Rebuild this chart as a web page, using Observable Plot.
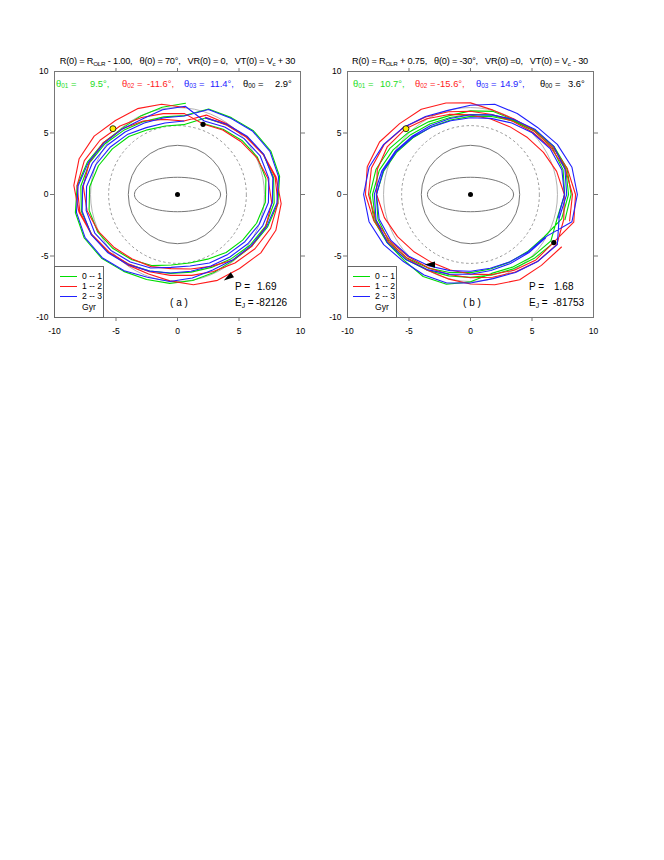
<!DOCTYPE html>
<html><head><meta charset="utf-8">
<script src="https://cdn.jsdelivr.net/npm/d3@7"></script>
<script src="https://cdn.jsdelivr.net/npm/@observablehq/plot@0.6"></script>
<style>
body{margin:0;background:#fff;font-family:"Liberation Sans",Arial,sans-serif;}
#wrap{position:relative;width:664px;height:860px;background:#fff;}
.abs{position:absolute;white-space:pre;line-height:1;font-family:"Liberation Sans",Arial,sans-serif;}
.sb{font-size:68%;position:relative;top:0.3em;}
svg{position:absolute;top:40px;overflow:visible;}
</style></head><body><div id="wrap"></div>
<script>
// ---------- data ----------
const tickLabels = [-10, -5, 0, 5, 10];
const tickMarks = [-5, 0, 5];
// sampling angles (deg) along each revolution, clockwise from the start angle
const anglesA = [70,55,40,25,10,-5,-20,-35,-50,-65,-80,-95,-110,-125,-140,-155,-170,-185,-200,-215,-230,-245,-260,-275];
const anglesB = [-30,-45,-60,-75,-90,-105,-120,-135,-150,-165,-180,-195,-210,-225,-240,-255,-270,-285,-300,-315,-330,-345,-360,-375];
// orbit radii (kpc) at those angles, three revolutions per Gyr
const greenA = [6.15,6.47,6.84,7.17,7.30,7.17,6.84,6.47,6.15,5.80,5.65,5.75,6.15,6.47,6.84,7.17,7.30,7.17,6.84,6.47,6.15,5.80,5.65,5.70,
  6.62,6.93,7.32,7.71,7.93,7.89,7.60,7.19,6.81,6.54,6.41,6.44,6.62,6.93,7.32,7.71,7.93,7.89,7.60,7.19,6.81,6.54,6.41,6.44,
  7.40,7.63,8.06,8.37,8.43,8.19,7.78,7.35,7.02,7.00,7.10,7.25,7.35,7.63,8.06,8.37,8.43,8.19,7.78,7.35,7.02,7.05,7.20,7.45];
const redA = [6.68,6.91,7.27,7.69,8.06,8.20,8.06,7.69,7.27,6.91,6.68,6.60,6.68,6.91,7.27,7.69,8.06,8.20,8.06,7.69,7.27,6.91,6.68,6.60,
  6.10,6.41,6.71,7.10,7.47,7.69,7.64,7.36,6.97,6.45,6.15,6.05,6.24,6.41,6.71,7.10,7.47,7.69,7.64,7.36,6.97,6.60,6.20,6.00,
  6.87,7.01,7.30,7.71,8.14,8.46,8.51,8.27,7.85,7.70,7.45,7.05,6.87,7.01,7.30,7.71,8.14,8.46,8.51,8.27,7.85,7.70,7.45,7.10];
const blueA = [6.63,6.98,7.38,7.74,7.87,7.74,7.38,6.98,6.63,6.41,6.34,6.41,6.63,6.98,7.38,7.74,7.87,7.74,7.38,6.98,6.63,6.41,6.34,6.41,
  7.35,7.56,7.99,8.29,8.34,8.11,7.70,7.28,6.96,6.77,6.90,7.10,7.16,7.56,7.99,8.29,8.34,8.11,7.70,7.28,6.96,6.77,7.00,7.20,
  6.36,6.69,7.07,7.42,7.54,7.42,7.07,6.69,6.36,6.15,5.90,5.95,6.36,6.69,7.07,7.42,7.54,7.42,7.07,6.69,6.36,6.00,5.90,6.00];
const greenB = [7.82,7.34,6.98,6.78,6.74,6.85,7.10,7.44,7.79,8.02,7.97,7.67,7.26,6.88,6.61,6.48,6.51,6.68,7.00,7.40,7.79,8.02,7.97,7.67,
  6.91,6.56,6.35,6.27,6.35,6.56,6.91,7.31,7.66,7.79,7.66,7.31,6.91,6.56,6.35,6.27,6.35,6.56,6.91,7.31,7.66,7.79,7.66,7.31,
  7.55,7.14,6.82,6.64,7.10,7.55,7.70,7.60,7.83,8.13,8.18,7.95,7.55,7.14,6.82,6.64,6.80,7.00,7.02,7.41,7.83,8.13,8.18,7.95];
const redB = [8.54,8.15,8.00,7.60,7.28,7.10,7.08,7.32,7.71,8.15,8.54,8.69,8.54,8.15,8.00,7.70,7.45,7.10,7.08,7.32,7.71,8.15,8.54,8.69,
  7.80,7.52,7.11,6.74,6.47,6.35,6.37,6.55,6.85,7.25,7.63,7.85,7.80,7.52,7.11,6.74,6.47,6.35,6.37,6.55,6.85,7.25,7.63,7.85,
  8.11,7.70,7.28,6.96,6.77,6.74,6.87,7.16,7.56,7.99,8.29,8.34,8.11,7.70,7.28,6.96,6.77,6.74,6.87,7.16,7.56,7.99,8.29,8.34];
const blueB = [7.05,6.70,6.48,6.40,6.48,6.70,7.05,7.46,7.82,7.95,7.82,7.46,7.05,6.70,6.48,6.40,6.48,6.70,7.05,7.46,7.82,7.95,7.82,7.46,
  8.15,7.71,7.32,7.08,7.20,7.45,7.55,7.71,8.15,8.54,8.69,8.54,8.15,7.71,7.32,7.08,7.25,7.60,7.60,7.71,8.15,8.54,8.69,8.54,
  6.97,6.60,6.34,6.21,6.24,6.41,6.71,7.10,7.47,7.69,7.64,7.36,6.97,6.60,6.34,6.21,6.24,6.41,6.71,7.10,7.47,7.69,7.64,7.36];
// reference circles (kpc) and bar
const circleSolid = [4.0];
const circleDashed = [5.6];
const circleOLR = [7.07];
const barAxes = [3.5, 1.4];
// markers
const startR = [6.07, 7.82];
const startTheta = [70, -30];
const sunX = [-5.25, -5.25];
const sunY = [5.35, 5.35];
const arrowX = [4.2, -3.2];
const arrowY = [-6.7, -5.7];
const arrowDir = [237, 270];
// annotations
const panelLabels = ["( a )", "( b )"];
const periods = ["1.69", "1.68"];
const energies = ["-82126", "-81753"];
const thetaA = ["9.5", "-11.6", "11.4", "2.9"];
const thetaB = ["10.7", "-15.6", "14.9", "3.6"];
const legendLabels = ["0 -- 1", "1 -- 2", "2 -- 3"];
const colors = ["#00dd00", "#ff1a1a", "#2020ff"];
const thetaColors = ["#22dd22", "#ff2222", "#2222ff", "#000000"];

// ---------- helpers ----------
const rad = Math.PI / 180;
function orbit(radii, angles) {
  return radii.map((r, i) => { const a = angles[i % angles.length] * rad; return {x: r * Math.cos(a), y: r * Math.sin(a)}; });
}
const ellipse = d3.range(0, 361, 5).map(t => ({x: barAxes[0] * Math.cos(t * rad), y: barAxes[1] * Math.sin(t * rad)}));
// slim arrow-head symbol (points up before rotation)
const arrowHead = {draw(ctx, size) { const r = Math.sqrt(size / Math.PI); ctx.moveTo(0, -2 * r); ctx.lineTo(0.95 * r, 1.2 * r); ctx.lineTo(-0.95 * r, 1.2 * r); ctx.closePath(); }};

const panels = [
  {svgLeft: 0, mL: 54, mR: 20, series: [greenA, redA, blueA], angles: anglesA, i: 0},
  {svgLeft: 320, mL: 27, mR: 47, series: [greenB, redB, blueB], angles: anglesB, i: 1}
];

const wrap = document.getElementById("wrap");
const FONT = '"Liberation Sans", Arial, sans-serif';

for (const p of panels) {
  const i = p.i;
  const marks = [
    Plot.frame({stroke: "#777"}),
    Plot.axisX(tickMarks, {anchor: "bottom", tickSize: 4, stroke: "#777", tickFormat: () => "", label: null}),
    Plot.axisX(tickMarks, {anchor: "top", tickSize: 4, stroke: "#777", tickFormat: () => "", label: null}),
    Plot.axisY(tickMarks, {anchor: "left", tickSize: 4, stroke: "#777", tickFormat: () => "", label: null}),
    Plot.axisY(tickMarks, {anchor: "right", tickSize: 4, stroke: "#777", tickFormat: () => "", label: null}),
    Plot.axisX(tickLabels, {anchor: "bottom", tickSize: 0, tickPadding: 10, tickFormat: d => String(d), fontSize: 8.5, label: null, fill: "#000"}),
    Plot.axisY(tickLabels, {anchor: "left", tickSize: 0, tickPadding: 6, tickFormat: d => String(d), fontSize: 8.5, label: null, fill: "#000"}),
    Plot.dot(circleOLR, {x: () => 0, y: () => 0, r: d => d, stroke: "#aaa", strokeWidth: 0.9}),
    Plot.dot(circleDashed, {x: () => 0, y: () => 0, r: d => d, stroke: "#8a8a8a", strokeWidth: 0.9, strokeDasharray: "2.5,2.5"}),
    Plot.dot(circleSolid, {x: () => 0, y: () => 0, r: d => d, stroke: "#777", strokeWidth: 1}),
    Plot.line(ellipse, {x: "x", y: "y", stroke: "#777", strokeWidth: 1}),
    Plot.dot([0], {x: () => 0, y: () => 0, r: 2.5, fill: "#000"})
  ];
  p.series.forEach((s, k) => {
    marks.push(Plot.line(orbit(s, p.angles), {x: "x", y: "y", stroke: colors[k], strokeWidth: 1.1}));
  });
  marks.push(
    Plot.dot([i], {x: j => startR[j] * Math.cos(startTheta[j] * rad), y: j => startR[j] * Math.sin(startTheta[j] * rad), r: 2.6, fill: "#000"}),
    Plot.dot([i], {x: j => sunX[j], y: j => sunY[j], r: 3, fill: "#ffee00", stroke: "#000", strokeWidth: 0.8}),
    Plot.dot([i], {x: j => arrowX[j], y: j => arrowY[j], symbol: arrowHead, r: 3.2, fill: "#000", rotate: j => arrowDir[j]})
  );
  const svg = Plot.plot({
    width: 320, height: 300,
    marginLeft: p.mL, marginRight: p.mR, marginTop: 31, marginBottom: 23,
    x: {domain: [-10, 10]}, y: {domain: [-10, 10]},
    r: {type: "linear", domain: [0, 10], range: [0, 123]},
    style: {fontFamily: FONT, background: "transparent", overflow: "visible"},
    marks
  });
  svg.style.left = p.svgLeft + "px";
  wrap.appendChild(svg);
}

function addText(html, left, top, size, color, center, ls) {
  const d = document.createElement("div");
  d.className = "abs";
  d.innerHTML = html;
  d.style.left = left + "px";
  d.style.top = top + "px";
  d.style.fontSize = size + "px";
  d.style.color = color || "#000";
  if (ls) d.style.letterSpacing = ls + "px";
  if (center) d.style.transform = "translateX(-50%)";
  wrap.appendChild(d);
}

// titles
addText('R(0) = R<span class="sb">OLR</span> - 1.00,   θ(0) = 70°,   VR(0) = 0,   VT(0) = V<span class="sb">c</span> + 30', 177.5, 57, 9.2, "#000", true, -0.2);
addText('R(0) = R<span class="sb">OLR</span> + 0.75,   θ(0) = -30°,   VR(0) =0,   VT(0) = V<span class="sb">c</span> - 30', 470, 57, 9.2, "#000", true, -0.2);

// theta lines
const subs = ["01", "02", "03", "00"];
const thLabA = [56, 122, 184, 243], thValA = [90, 147, 210, 275];
const thLabB = [353, 415, 476, 540], thValB = [380, 437, 500, 568];
[[thetaA, thLabA, thValA], [thetaB, thLabB, thValB]].forEach(([vals, labs, vs]) => {
  vals.forEach((v, k) => {
    addText('θ<span class="sb">' + subs[k] + '</span> =', labs[k], 78.5, 9.4, thetaColors[k]);
    addText(v + '°' + (k < 3 ? ',' : ''), vs[k], 78.5, 9.4, thetaColors[k]);
  });
});

// P, EJ, panel labels
const pL = [235, 529], pV = [257, 554], eV = [256, 553], labC = [179, 472];
for (let i = 0; i < 2; i++) {
  addText('P =', pL[i], 282, 10);
  addText(periods[i], pV[i], 282, 10);
  addText('E<span class="sb">J</span> =', pL[i], 298, 10);
  addText(energies[i], eV[i], 298, 10);
  addText(panelLabels[i], labC[i], 298, 10, "#000", true);
}

// legends
const legL = [54, 347];
for (let i = 0; i < 2; i++) {
  const box = document.createElement("div");
  box.style.cssText = `position:absolute;left:${legL[i]}px;top:266px;width:48px;height:50px;border:1px solid #666;background:#fff;`;
  wrap.appendChild(box);
  legendLabels.forEach((lab, k) => {
    const ln = document.createElement("div");
    ln.style.cssText = `position:absolute;left:${legL[i] + 6}px;top:${275.5 + 10.3 * k}px;width:17px;height:0;border-top:1.3px solid ${colors[k]};`;
    wrap.appendChild(ln);
    addText(lab, legL[i] + 28, 271.5 + 10.3 * k, 8.6, "#000");
  });
  addText("Gyr", legL[i] + 28, 302.5, 8.6, "#000");
}
</script></body></html>
